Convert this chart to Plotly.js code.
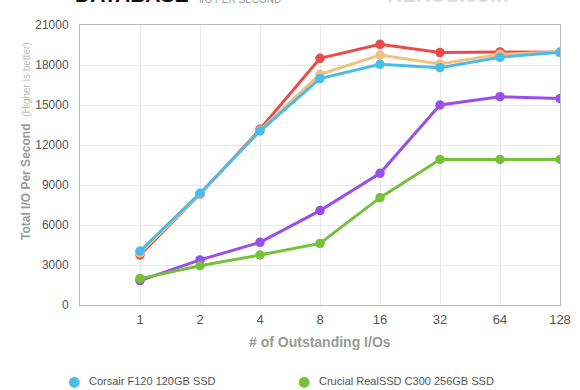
<!DOCTYPE html>
<html>
<head>
<meta charset="utf-8">
<script src="https://cdn.plot.ly/plotly-3.0.1.min.js"></script>
<style>
html,body{margin:0;padding:0;background:#fff;overflow:hidden;}
#chart{width:580px;height:390px;}
</style>
</head>
<body>
<div id="chart"></div>
<script>
var categories = ["1","2","4","8","16","32","64","128"];
var redValues    = [3750, 8300, 13175, 18500, 19550, 18930, 18980, 18950];
var orangeValues = [3900, 8300, 13100, 17300, 18750, 18080, 18800, 18950];
var purpleValues = [1830, 3380, 4700, 7080, 9880, 15000, 15620, 15480];
var blueValues   = [4050, 8380, 13050, 16980, 18050, 17800, 18580, 18950];
var greenValues  = [1980, 2950, 3750, 4620, 8050, 10920, 10920, 10920];
var seriesNames = ["Series 3", "Series 4", "Series 5", "Corsair F120 120GB SSD", "Crucial RealSSD C300 256GB SSD"];
var yTicks = [0, 3000, 6000, 9000, 12000, 15000, 18000, 21000];

var colors = ["#e94c4c", "#efc27f", "#9a4fe9", "#4bbce9", "#73c23a"];
var allValues = [redValues, orangeValues, purpleValues, blueValues, greenValues];

var traces = allValues.map(function(v, i){
  return {
    x: categories, y: v, name: seriesNames[i], type: 'scatter', mode: 'lines+markers',
    line: {color: colors[i], width: 3},
    marker: {color: colors[i], size: 9.5},
    showlegend: false, hoverinfo: 'x+y+name'
  };
});

var L = 80, R = 560, T = 25, B = 305;
function px(x){ return (x - L) / (R - L); }
function py(y){ return (B - y) / (B - T); }

var annotations = [
  {xref:'paper', yref:'paper', x: px(73), y: py(-5), xanchor:'left', yanchor:'middle', showarrow:false,
   text:'<b>DATABASE</b>', font:{family:'Liberation Sans, Arial, sans-serif', size:21, color:'#111'}},
  {xref:'paper', yref:'paper', x: px(197), y: py(-1), xanchor:'left', yanchor:'middle', showarrow:false,
   text:'I/O PER SECOND', font:{family:'Liberation Sans, Arial, sans-serif', size:10, color:'#999'}},
  {xref:'paper', yref:'paper', x: px(447), y: py(-5), xanchor:'center', yanchor:'middle', showarrow:false,
   text:'<b>HEXUS.com</b>', font:{family:'Liberation Sans, Arial, sans-serif', size:21, color:'#ddd'}},
  {xref:'paper', yref:'paper', x: px(26), y: py(141), xanchor:'center', yanchor:'middle', showarrow:false, textangle:-90,
   text:'<b>Total I/O Per Second</b>  <span style="font-size:10px;color:#bbb">(Higher is better)</span>',
   font:{family:'Liberation Sans, Arial, sans-serif', size:12, color:'#999'}},
  {xref:'paper', yref:'paper', x: px(320), y: py(342), xanchor:'center', yanchor:'middle', showarrow:false,
   text:'<b># of Outstanding I/Os</b>', font:{family:'Liberation Sans, Arial, sans-serif', size:14, color:'#999'}}
];

// legend first row (Corsair, Crucial)
var legendItems = [{idx:3, dotX:74, textX:87}, {idx:4, dotX:304, textX:317}];
legendItems.forEach(function(it){
  annotations.push({xref:'paper', yref:'paper', x: px(it.dotX), y: py(381), xanchor:'center', yanchor:'middle', showarrow:false,
    text:'●', font:{family:'DejaVu Sans, sans-serif', size:14, color:colors[it.idx]}});
  annotations.push({xref:'paper', yref:'paper', x: px(it.textX), y: py(381), xanchor:'left', yanchor:'middle', showarrow:false,
    text: seriesNames[it.idx], font:{family:'Liberation Sans, Arial, sans-serif', size:11, color:'#555'}});
});

var layout = {
  width: 580, height: 390,
  margin: {l: L, r: 580 - R, t: T, b: 390 - B, pad: 0},
  paper_bgcolor: '#fff', plot_bgcolor: '#fff',
  showlegend: false,
  xaxis: {
    type: 'category', categoryorder: 'array', categoryarray: categories,
    range: [-1, 7], showgrid: true, gridcolor: '#e8e8e8', gridwidth: 1,
    showline: true, linecolor: '#bbb', linewidth: 1, mirror: true,
    ticks: '', zeroline: false, fixedrange: true, ticklabelstandoff: 2,
    tickfont: {family:'Liberation Sans, Arial, sans-serif', size:13, color:'#555'}
  },
  yaxis: {
    range: [0, 21000], tickvals: yTicks, ticktext: yTicks.map(String),
    showgrid: true, gridcolor: '#e8e8e8', gridwidth: 1,
    showline: true, linecolor: '#bbb', linewidth: 1, mirror: true,
    ticks: '', zeroline: false, ticklabelstandoff: 8, fixedrange: true,
    tickfont: {family:'Liberation Sans, Arial, sans-serif', size:12, color:'#555'}
  },
  annotations: annotations
};

Plotly.newPlot('chart', traces, layout, {displayModeBar: false, staticPlot: true});
</script>
</body>
</html>
